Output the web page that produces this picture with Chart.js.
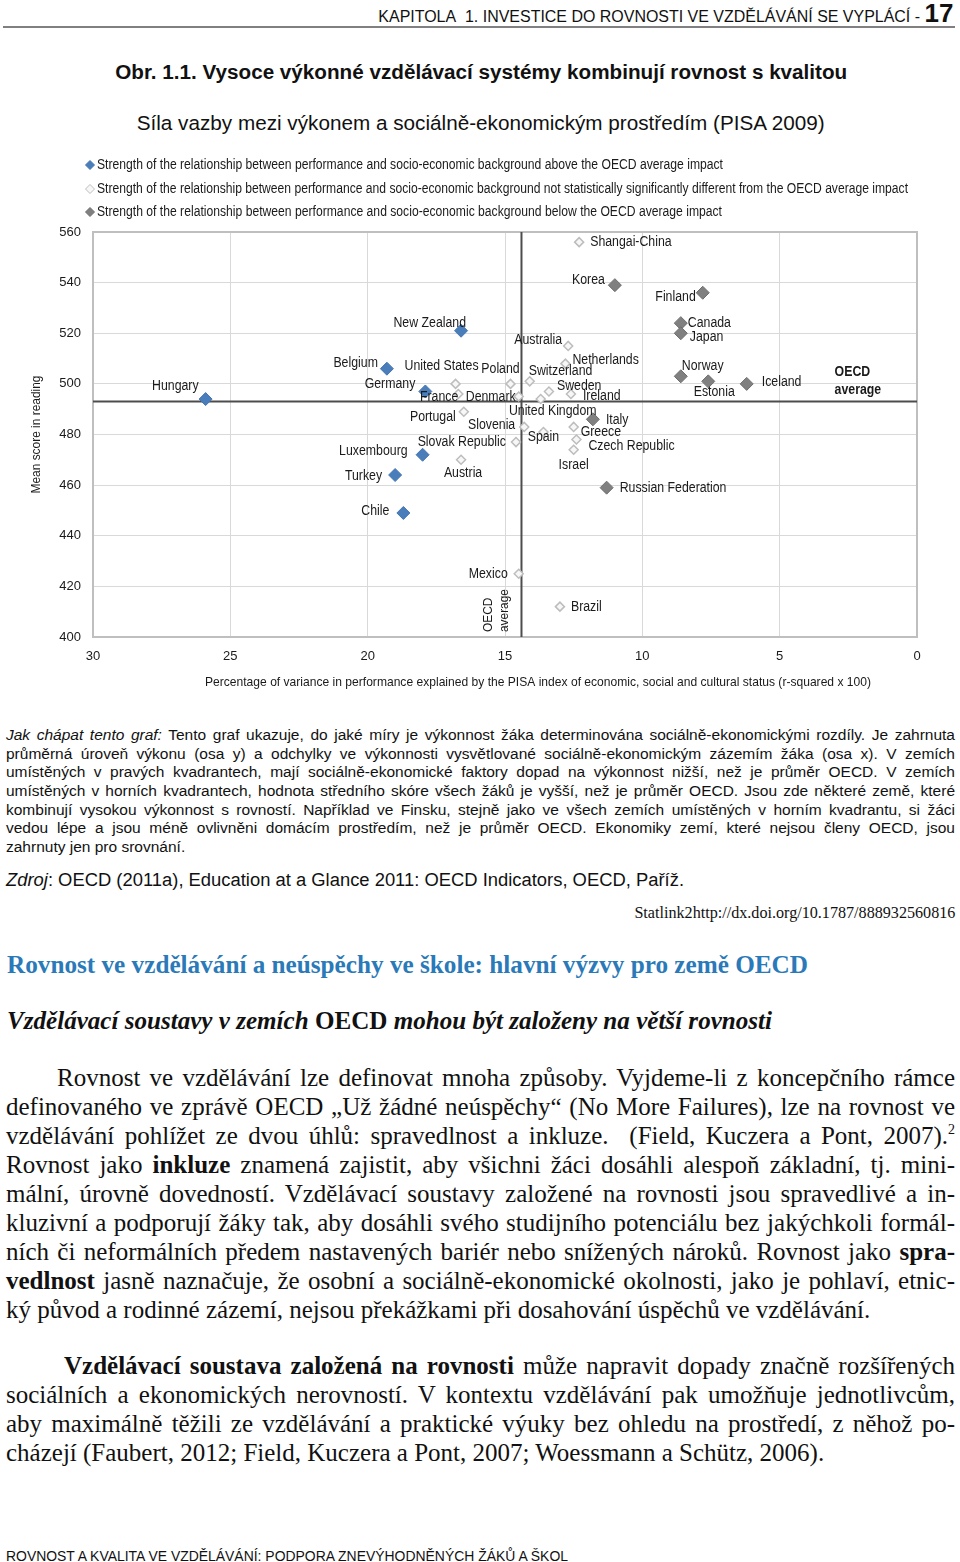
<!DOCTYPE html>
<html lang="cs">
<head>
<meta charset="utf-8">
<title>Obr. 1.1</title>
<script src="https://cdn.jsdelivr.net/npm/chart.js@4.4.1/dist/chart.umd.min.js"></script>
<style>
  body { margin: 0; background: #fff; width: 960px; height: 1562px; position: relative; overflow: hidden; color: #111; }
  .sans { font-family: "Liberation Sans", Arial, sans-serif; }
  .serif { font-family: "Liberation Serif", "Times New Roman", serif; }
  .abs { position: absolute; white-space: nowrap; }
  .fit { display: inline-block; }
  .j { text-align: justify; text-align-last: justify; white-space: nowrap; }
  #header { top: 0; right: 7px; height: 26px; line-height: 26px; font-size: 16px; }
  #header .fit { transform-origin: right center; }
  #header b { font-size: 26px; }
  #rule { top: 26px; left: 3px; width: 952px; height: 2px; background: #808080; }
  #title { top: 60px; left: 0; width: 962px; text-align: center; font-size: 20px; font-weight: bold; line-height: 24px; }
  #subtitle { top: 111px; left: 0; width: 962px; text-align: center; font-size: 20.5px; line-height: 24px; }
  #title .fit, #subtitle .fit { transform-origin: center center; }
  #chartBox { top: 150px; left: 0; width: 960px; height: 555px; }
  #howto { top: 726px; left: 6px; width: 949px; font-size: 15.5px; line-height: 18.67px; white-space: normal; }
  #source { top: 869px; left: 6px; font-size: 18px; line-height: 22px; }
  #statlink { top: 903px; right: 5px; font-size: 16px; line-height: 20px; }
  #statlink .fit { transform-origin: right center; }
  #blueHead { top: 950px; left: 7px; font-size: 25px; font-weight: bold; color: #2a7ab9; line-height: 30px; }
  #subHead { top: 1006px; left: 7px; font-size: 25px; font-weight: bold; font-style: italic; line-height: 30px; }
  #subHead span.n { font-style: normal; }
  .fit { transform-origin: left center; }
  .body { left: 6px; width: 949px; font-size: 25px; line-height: 29px; white-space: normal; }
  #para1 { top: 1063px; }
  #para2 { top: 1351px; }
  #footer { top: 1546px; left: 6px; font-size: 14px; line-height: 20px; }
  sup { font-size: 14px; line-height: 0; vertical-align: 10px; }
</style>
</head>
<body>
<div id="header" class="abs sans"><span class="fit" data-w="575">KAPITOLA&nbsp; 1. INVESTICE DO ROVNOSTI VE VZDĚLÁVÁNÍ SE VYPLÁCÍ - <b>17</b></span></div>
<div id="rule" class="abs"></div>
<div id="title" class="abs sans"><span class="fit" data-w="732">Obr. 1.1. Vysoce výkonné vzdělávací systémy kombinují rovnost s kvalitou</span></div>
<div id="subtitle" class="abs sans"><span class="fit" data-w="688">Síla vazby mezi výkonem a sociálně-ekonomickým prostředím (PISA 2009)</span></div>

<div id="chartBox" class="abs"><canvas id="pisa-chart"></canvas></div>

<div id="howto" class="abs sans">
  <div class="j"><i>Jak chápat tento graf:</i> Tento graf ukazuje, do jaké míry je výkonnost žáka determinována sociálně-ekonomickými rozdíly. Je zahrnuta</div>
  <div class="j">průměrná úroveň výkonu (osa y) a odchylky ve výkonnosti vysvětlované sociálně-ekonomickým zázemím žáka (osa x). V zemích</div>
  <div class="j">umístěných v pravých kvadrantech, mají sociálně-ekonomické faktory dopad na výkonnost nižší, než je průměr OECD. V zemích</div>
  <div class="j">umístěných v horních kvadrantech, hodnota středního skóre všech žáků je vyšší, než je průměr OECD. Jsou zde některé země, které</div>
  <div class="j">kombinují vysokou výkonnost s rovností. Například ve Finsku, stejně jako ve všech zemích umístěných v horním kvadrantu, si žáci</div>
  <div class="j">vedou lépe a jsou méně ovlivněni domácím prostředím, než je průměr OECD. Ekonomiky zemí, které nejsou členy OECD, jsou</div>
  <div>zahrnuty jen pro srovnání.</div>
</div>

<div id="source" class="abs sans"><span class="fit" data-w="678"><i>Zdroj</i>: OECD (2011a), Education at a Glance 2011: OECD Indicators, OECD, Paříž.</span></div>
<div id="statlink" class="abs serif"><span class="fit" data-w="321">Statlink2http://dx.doi.org/10.1787/888932560816</span></div>
<div id="blueHead" class="abs serif"><span class="fit" data-w="801">Rovnost ve vzdělávání a neúspěchy ve škole: hlavní výzvy pro země OECD</span></div>
<div id="subHead" class="abs serif"><span class="fit" data-w="765">Vzdělávací soustavy v zemích <span class="n">OECD</span> mohou být založeny na větší rovnosti</span></div>

<div id="para1" class="abs serif body">
  <div class="j" style="padding-left:51px">Rovnost ve vzdělávání lze definovat mnoha způsoby. Vyjdeme-li z koncepčního rámce</div>
  <div class="j">definovaného ve zprávě OECD „Už žádné neúspěchy“ (No More Failures), lze na rovnost ve</div>
  <div class="j">vzdělávání pohlížet ze dvou úhlů: spravedlnost a inkluze. &nbsp;(Field, Kuczera a Pont, 2007).<sup>2</sup></div>
  <div class="j">Rovnost jako <b>inkluze</b> znamená zajistit, aby všichni žáci dosáhli alespoň základní, tj. mini-</div>
  <div class="j">mální, úrovně dovedností. Vzdělávací soustavy založené na rovnosti jsou spravedlivé a in-</div>
  <div class="j">kluzivní a podporují žáky tak, aby dosáhli svého studijního potenciálu bez jakýchkoli formál-</div>
  <div class="j">ních či neformálních předem nastavených bariér nebo snížených nároků. Rovnost jako <b>spra-</b></div>
  <div class="j"><b>vedlnost</b> jasně naznačuje, že osobní a sociálně-ekonomické okolnosti, jako je pohlaví, etnic-</div>
  <div>ký původ a rodinné zázemí, nejsou překážkami při dosahování úspěchů ve vzdělávání.</div>
</div>

<div id="para2" class="abs serif body">
  <div class="j" style="padding-left:58px"><b>Vzdělávací soustava založená na rovnosti</b> může napravit dopady značně rozšířených</div>
  <div class="j">sociálních a ekonomických nerovností. V kontextu vzdělávání pak umožňuje jednotlivcům,</div>
  <div class="j">aby maximálně těžili ze vzdělávání a praktické výuky bez ohledu na prostředí, z něhož po-</div>
  <div>cházejí (Faubert, 2012; Field, Kuczera a Pont, 2007; Woessmann a Schütz, 2006).</div>
</div>

<div id="footer" class="abs sans"><span class="fit" data-w="562">ROVNOST A KVALITA VE VZDĚLÁVÁNÍ: PODPORA ZNEVÝHODNĚNÝCH ŽÁKŮ A ŠKOL</span></div>

<script>
// PISA 2009 reading: mean score (y) vs. % of variance explained by ESCS (x)

const aboveCountries = ['Hungary', 'New Zealand', 'Belgium', 'Germany', 'Luxembourg', 'Turkey', 'Chile'];
const aboveVariance = [25.9, 16.6, 19.3, 17.9, 18.0, 19.0, 18.7];
const aboveScore = [494, 521, 506, 497, 472, 464, 449];

const notSigCountries = ['Shangai-China', 'Australia', 'Netherlands', 'United States', 'Poland', 'Switzerland',
    'Sweden', 'France', 'Denmark', 'Ireland', 'United Kingdom', 'Portugal', 'Slovenia', 'Greece', 'Spain',
    'Slovak Republic', 'Czech Republic', 'Israel', 'Austria', 'Mexico', 'Brazil'];
const notSigVariance = [12.3, 12.7, 12.8, 16.8, 14.8, 14.1, 13.4, 16.7, 14.5, 12.6, 13.7, 16.5, 14.3, 12.5, 13.6,
    14.6, 12.4, 12.5, 16.6, 14.5, 13.0];
const notSigScore = [556, 515, 508, 500, 500, 501, 497, 496, 495, 496, 494, 489, 483, 483, 481, 477, 478, 474, 470, 425, 412];

const belowCountries = ['Korea', 'Finland', 'Canada', 'Japan', 'Norway', 'Estonia', 'Iceland', 'Italy', 'Russian Federation'];
const belowVariance = [11.0, 7.8, 8.6, 8.6, 8.6, 7.6, 6.2, 11.8, 11.3];
const belowScore = [539, 536, 524, 520, 503, 501, 500, 486, 459];

const oecdAvgScore = 493;
const oecdAvgVariance = 14.4;

const seriesLabels = [
    'Strength of the relationship between performance and socio-economic background above the OECD average impact',
    'Strength of the relationship between performance and socio-economic background not statistically significantly different from the OECD average impact',
    'Strength of the relationship between performance and socio-economic background below the OECD average impact'
];

const yTicks = [400, 420, 440, 460, 480, 500, 520, 540, 560];
const xTicks = [0, 5, 10, 15, 20, 25, 30];

const yTitle = 'Mean score in reading';
const xTitle = 'Percentage of variance in performance explained by the PISA index of economic, social and cultural status (r-squared x 100)';

const sansFont = '"Liberation Sans", Arial, sans-serif';

// label offsets from the marker: [dx, dy, align]
const labelPlacement = {
    'Hungary': [-7, -13, 'right'],
    'New Zealand': [5, -8, 'right'],
    'Belgium': [-9, -6, 'right'],
    'Germany': [-10, -7, 'right'],
    'Luxembourg': [-15, -4, 'right'],
    'Turkey': [-13, 1, 'right'],
    'Chile': [-14, -2, 'right'],
    'Shangai-China': [11, 0, 'left'],
    'Australia': [-6, -6, 'right'],
    'Netherlands': [7, -3, 'left'],
    'United States': [-14, -18, 'center'],
    'Poland': [-10, -15, 'center'],
    'Switzerland': [-1, -10, 'left'],
    'Sweden': [8, -5, 'left'],
    'France': [0, 3, 'right'],
    'Denmark': [-3, 1, 'right'],
    'Ireland': [12, 2, 'left'],
    'United Kingdom': [12, 12, 'center'],
    'Portugal': [-8, 5, 'right'],
    'Slovenia': [-9, -2, 'right'],
    'Greece': [7, 5, 'left'],
    'Spain': [0, 5, 'center'],
    'Slovak Republic': [-10, 0, 'right'],
    'Czech Republic': [12, 7, 'left'],
    'Israel': [0, 15, 'center'],
    'Austria': [2, 13, 'center'],
    'Mexico': [-11, 0, 'right'],
    'Brazil': [11, 1, 'left'],
    'Korea': [-10, -5, 'right'],
    'Finland': [-7, 4, 'right'],
    'Canada': [7, 0, 'left'],
    'Japan': [9, 4, 'left'],
    'Norway': [1, -10, 'left'],
    'Estonia': [6, 11, 'center'],
    'Iceland': [15, -2, 'left'],
    'Italy': [13, 1, 'left'],
    'Russian Federation': [13, 0, 'left']
};

// legend rows (canvas coords) and the width each text line takes in the original
const legendRows = [15, 39, 62];
const legendWidths = [626, 811, 625];

function toPoints(xs, ys) {
    return xs.map((x, i) => ({ x: x, y: ys[i] }));
}

// draws text squeezed horizontally, like the narrow face in the original
function narrowText(ctx, text, x, y, align, sx, rot) {
    ctx.save();
    ctx.translate(x, y);
    if (rot) ctx.rotate(rot);
    ctx.scale(sx, 1);
    ctx.textAlign = align;
    ctx.fillText(text, 0, 0);
    ctx.restore();
}

function diamond(ctx, x, y, r) {
    ctx.beginPath();
    ctx.moveTo(x - r, y);
    ctx.lineTo(x, y - r);
    ctx.lineTo(x + r, y);
    ctx.lineTo(x, y + r);
    ctx.closePath();
    ctx.fill();
    ctx.stroke();
}

const chartDecor = {
    id: 'chartDecor',
    beforeDatasetsDraw(chart) {
        const { ctx, chartArea: a } = chart;
        ctx.save();
        ctx.strokeStyle = '#bfbfbf';
        ctx.lineWidth = 2;
        ctx.strokeRect(a.left, a.top, a.right - a.left, a.bottom - a.top);
        ctx.restore();
    },
    afterDatasetsDraw(chart) {
        const { ctx, chartArea: a, scales } = chart;
        ctx.save();
        ctx.fillStyle = '#1a1a1a';
        ctx.textBaseline = 'middle';

        // country labels
        ctx.font = '14px ' + sansFont;
        chart.data.datasets.forEach((ds, di) => {
            if (!ds.countries) return;
            chart.getDatasetMeta(di).data.forEach((pt, i) => {
                const name = ds.countries[i];
                const p = labelPlacement[name] || [8, 0, 'left'];
                narrowText(ctx, name, pt.x + p[0], pt.y + p[1], p[2], 0.88);
            });
        });

        // legend
        ctx.font = '14px ' + sansFont;
        for (let i = 0; i < 3; i++) {
            const ds = chart.data.datasets[i];
            ctx.fillStyle = ds.backgroundColor;
            ctx.strokeStyle = ds.borderColor;
            ctx.lineWidth = 1;
            diamond(ctx, a.left - 3, legendRows[i], 4.5);
            ctx.fillStyle = '#1a1a1a';
            const w = ctx.measureText(ds.label).width;
            narrowText(ctx, ds.label, a.left + 4, legendRows[i], 'left', legendWidths[i] / w);
        }

        // OECD average captions
        const yAvg = scales.y.getPixelForValue(oecdAvgScore);
        const xAvg = scales.x.getPixelForValue(oecdAvgVariance);
        const xCap = scales.x.getPixelForValue(3.0);
        ctx.font = 'bold 14px ' + sansFont;
        narrowText(ctx, 'OECD', xCap, yAvg - 29, 'left', 0.88);
        narrowText(ctx, 'average', xCap, yAvg - 11, 'left', 0.88);

        ctx.font = '13.5px ' + sansFont;
        ctx.textBaseline = 'alphabetic';
        narrowText(ctx, 'OECD', xAvg - 29, a.bottom - 5, 'left', 0.88, -Math.PI / 2);
        narrowText(ctx, 'average', xAvg - 13, a.bottom - 5, 'left', 0.88, -Math.PI / 2);

        // axis titles
        ctx.textBaseline = 'middle';
        ctx.font = '13.5px ' + sansFont;
        let w = ctx.measureText(xTitle).width;
        narrowText(ctx, xTitle, 538, a.bottom + 45, 'center', 666 / w);
        w = ctx.measureText(yTitle).width;
        narrowText(ctx, yTitle, 36, (a.top + a.bottom) / 2, 'center', 118 / w, -Math.PI / 2);
        ctx.restore();
    }
};

const ctx = document.getElementById('pisa-chart');

new Chart(ctx, {
    type: 'scatter',
    data: {
        datasets: [
            {
                label: seriesLabels[0],
                countries: aboveCountries,
                data: toPoints(aboveVariance, aboveScore),
                pointStyle: 'rectRot',
                pointRadius: 6.5,
                backgroundColor: '#4a7ebb',
                borderColor: '#4575b0',
                borderWidth: 1
            },
            {
                label: seriesLabels[1],
                countries: notSigCountries,
                data: toPoints(notSigVariance, notSigScore),
                pointStyle: 'rectRot',
                pointRadius: 4.5,
                backgroundColor: '#f7f7f7',
                borderColor: '#bdbdbd',
                borderWidth: 1.5
            },
            {
                label: seriesLabels[2],
                countries: belowCountries,
                data: toPoints(belowVariance, belowScore),
                pointStyle: 'rectRot',
                pointRadius: 6.5,
                backgroundColor: '#808080',
                borderColor: '#6e6e6e',
                borderWidth: 1
            },
            {
                label: 'OECD average score',
                data: [{ x: 0, y: oecdAvgScore }, { x: 30, y: oecdAvgScore }],
                showLine: true,
                pointRadius: 0,
                borderColor: '#4d4d4d',
                borderWidth: 2
            },
            {
                label: 'OECD average variance',
                data: [{ x: oecdAvgVariance, y: 400 }, { x: oecdAvgVariance, y: 560 }],
                showLine: true,
                pointRadius: 0,
                borderColor: '#4d4d4d',
                borderWidth: 2
            }
        ]
    },
    options: {
        responsive: true,
        maintainAspectRatio: false,
        animation: false,
        layout: { padding: { left: 0, right: 43, top: 82, bottom: 0 } },
        plugins: {
            legend: { display: false },
            tooltip: { enabled: false }
        },
        scales: {
            x: {
                type: 'linear',
                reverse: true,
                min: 0,
                max: 30,
                afterBuildTicks: (scale) => { scale.ticks = xTicks.map(v => ({ value: v })); },
                afterFit: (scale) => { scale.height = 68; },
                ticks: { padding: 12, color: '#1a1a1a', font: { family: sansFont, size: 13 } },
                grid: { color: '#d9d9d9', lineWidth: 1, drawTicks: false },
                border: { display: false }
            },
            y: {
                min: 400,
                max: 560,
                afterBuildTicks: (scale) => { scale.ticks = yTicks.map(v => ({ value: v })); },
                afterFit: (scale) => { scale.width = 93; },
                ticks: { padding: 12, color: '#1a1a1a', font: { family: sansFont, size: 13 } },
                grid: { color: '#d9d9d9', lineWidth: 1, drawTicks: false },
                border: { display: false }
            }
        }
    },
    plugins: [chartDecor]
});

// squeeze single-line blocks to the width they have in the original
document.querySelectorAll('.fit').forEach(el => {
    const w = el.getBoundingClientRect().width;
    el.style.transform = 'scaleX(' + (Number(el.dataset.w) / w) + ')';
});

// justified lines: stretch spaces when short, squeeze when too long
document.querySelectorAll('.j').forEach(div => {
    div.innerHTML = '<span>' + div.innerHTML + '</span>';
    const span = div.firstChild;
    const pad = parseFloat(getComputedStyle(div).paddingLeft) || 0;
    const room = div.clientWidth - pad;
    const w = span.getBoundingClientRect().width;
    if (w > room) {
        span.style.display = 'inline-block';
        span.style.transformOrigin = 'left center';
        span.style.transform = 'scaleX(' + (room / w) + ')';
        div.style.textAlignLast = 'left';
    }
});
</script>
</body>
</html>
